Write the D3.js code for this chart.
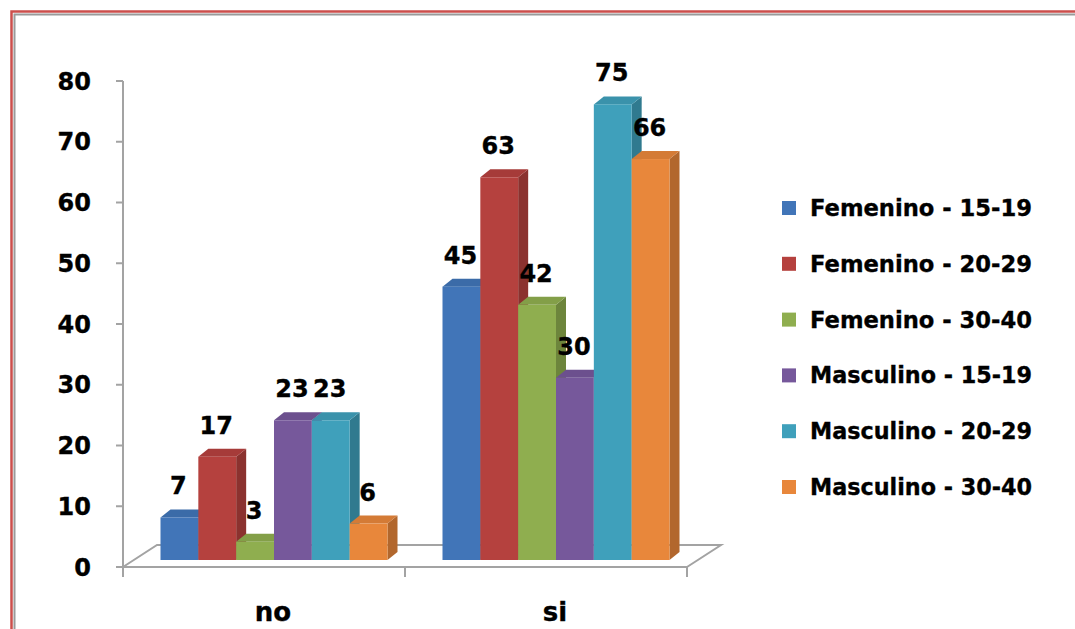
<!DOCTYPE html>
<html>
<head>
<meta charset="utf-8">
<script src="https://cdn.jsdelivr.net/npm/d3@7"></script>
<style>
  html, body { margin: 0; padding: 0; background: #ffffff; }
  svg { display: block; }
  text { font-family: "DejaVu Sans", Verdana, sans-serif; font-weight: bold; fill: #000; stroke: #000; stroke-width: 0.35px; }
</style>
</head>
<body>
<svg id="chart" width="1075" height="629"></svg>
<script>
// Categories on the x axis
const categories = ["no", "si"];

// Series names (legend order)
const seriesNames = [
  "Femenino - 15-19",
  "Femenino - 20-29",
  "Femenino - 30-40",
  "Masculino - 15-19",
  "Masculino - 20-29",
  "Masculino - 30-40"
];

// Values per series, one entry per category (no, si)
const femenino1519  = [7, 45];
const femenino2029  = [17, 63];
const femenino3040  = [3, 42];
const masculino1519 = [23, 30];
const masculino2029 = [23, 75];
const masculino3040 = [6, 66];

const seriesValues = [femenino1519, femenino2029, femenino3040,
                      masculino1519, masculino2029, masculino3040];

// Y axis ticks
const yTicks = [0, 10, 20, 30, 40, 50, 60, 70, 80];

// Office-style palette
const colors = ["#4175b8", "#b5413e", "#8fae4f", "#76589b", "#3fa0bb", "#e8873b"];

const svg = d3.select("#chart");

// Outer frame (red line with a gray inner rule)
svg.append("rect").attr("x", 11.5).attr("y", 11.5).attr("width", 1200).attr("height", 800)
  .attr("fill", "none").attr("stroke", "#cc4f4c").attr("stroke-width", 2.5);
svg.append("rect").attr("x", 14.5).attr("y", 14.5).attr("width", 1200).attr("height", 800)
  .attr("fill", "none").attr("stroke", "#9a9a9a").attr("stroke-width", 2);

// Scales
const x0 = d3.scaleBand().domain(categories).range([123, 687]);
const groupPad = 27.5;
const x1 = d3.scaleBand().domain(seriesNames).range([groupPad, x0.bandwidth() - groupPad]);
const y = d3.scaleLinear().domain([0, 80]).range([567, 81]);

// Depth offsets of the pseudo-3D view
const floorDX = 34, floorDY = -22;   // full floor depth
const frontDX = 10, frontDY = -7;    // bar front plane relative to axis plane
const barDX = 10, barDY = -8;        // bar depth

const axisColor = "#a3a3a3";

// Floor outline
const fx0 = x0.range()[0], fx1 = x0.range()[1], fy = y(0);
svg.append("path")
  .attr("d", `M${fx0},${fy} L${fx0 + floorDX},${fy + floorDY} L${fx1 + floorDX},${fy + floorDY} L${fx1},${fy}`)
  .attr("fill", "none").attr("stroke", axisColor).attr("stroke-width", 2);

// Bars
const bars = svg.append("g");
categories.forEach((cat, ci) => {
  seriesNames.forEach((name, si) => {
    const v = seriesValues[si][ci];
    const c = d3.color(colors[si]);
    const bx = x0(cat) + x1(name) + frontDX;
    const bw = x1.bandwidth();
    const top = y(v) + frontDY;
    const bottom = y(0) + frontDY;
    const g = bars.append("g");
    // right side face
    g.append("path")
      .attr("d", `M${bx + bw},${top} L${bx + bw + barDX},${top + barDY} L${bx + bw + barDX},${bottom + barDY} L${bx + bw},${bottom} Z`)
      .attr("fill", c.darker(0.75));
    // top face
    g.append("path")
      .attr("d", `M${bx},${top} L${bx + barDX},${top + barDY} L${bx + bw + barDX},${top + barDY} L${bx + bw},${top} Z`)
      .attr("fill", c.darker(0.25));
    // front face
    g.append("rect")
      .attr("x", bx).attr("y", top).attr("width", bw).attr("height", bottom - top)
      .attr("fill", c);
    // value label
    svg.append("text")
      .attr("x", bx + bw / 2 - 1).attr("y", top - 23)
      .attr("text-anchor", "middle").attr("font-size", 24)
      .text(v);
  });
});

// Front edge of the floor (x axis line) drawn over the bars' base
svg.append("line").attr("x1", fx0).attr("x2", fx1).attr("y1", fy).attr("y2", fy)
  .attr("stroke", axisColor).attr("stroke-width", 2);

// Category ticks and labels
const catEdges = [fx0].concat(categories.map(c => x0(c) + x0.bandwidth()));
svg.selectAll(".xtick").data(catEdges).enter().append("line")
  .attr("x1", d => d).attr("x2", d => d).attr("y1", fy).attr("y2", fy + 10)
  .attr("stroke", axisColor).attr("stroke-width", 2);
svg.selectAll(".xlab").data(categories).enter().append("text")
  .attr("x", d => x0(d) + x0.bandwidth() / 2 + 9)
  .attr("y", 621)
  .attr("text-anchor", "middle").attr("font-size", 26)
  .text(d => d);

// Y axis
svg.append("line").attr("x1", fx0).attr("x2", fx0).attr("y1", y(80)).attr("y2", y(0))
  .attr("stroke", axisColor).attr("stroke-width", 2);
svg.selectAll(".ytick").data(yTicks).enter().append("line")
  .attr("x1", fx0 - 7).attr("x2", fx0).attr("y1", d => y(d)).attr("y2", d => y(d))
  .attr("stroke", axisColor).attr("stroke-width", 2);
svg.selectAll(".ylab").data(yTicks).enter().append("text")
  .attr("x", 91).attr("y", d => y(d) + 8.5)
  .attr("text-anchor", "end").attr("font-size", 24)
  .text(d => d);

// Legend
const legend = svg.append("g");
seriesNames.forEach((name, i) => {
  const cy = 208 + i * 55.8;
  legend.append("rect").attr("x", 782).attr("y", cy - 7).attr("width", 14).attr("height", 14)
    .attr("fill", colors[i]);
  legend.append("text").attr("x", 810).attr("y", cy + 8)
    .attr("font-size", 22.5).attr("textLength", 222).attr("lengthAdjust", "spacingAndGlyphs")
    .text(name);
});
</script>
</body>
</html>
